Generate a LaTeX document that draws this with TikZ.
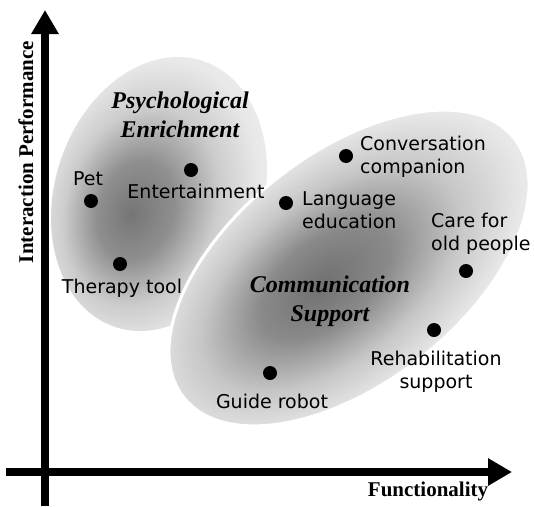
\documentclass[tikz,border=0pt]{standalone}
\usepackage{fontspec}
\setmainfont{Liberation Serif}
\newfontfamily\dejavu{DejaVu Sans}
\usetikzlibrary{arrows.meta}
\pgfdeclareradialshading{blobL}{\pgfpoint{-5bp}{5bp}}{color(0bp)=(black!54); color(9bp)=(black!44); color(18bp)=(black!20); color(26bp)=(black!9); color(33bp)=(black!6); color(50bp)=(black!6)}
\pgfdeclareradialshading{blobR}{\pgfpoint{-4bp}{1bp}}{color(0bp)=(black!56); color(9bp)=(black!46); color(18bp)=(black!22); color(26bp)=(black!9); color(33bp)=(black!6); color(50bp)=(black!6)}
\begin{document}
\begin{tikzpicture}[x=1pt,y=-1pt,
  dot/.style={circle,fill=black,inner sep=0pt,minimum size=14pt},
  lbl/.style={font=\dejavu\fontsize{19}{23}\selectfont,inner sep=0pt},
  grp/.style={font=\bfseries\itshape\fontsize{24}{29}\selectfont,inner sep=0pt,align=center},
  axlbl/.style={font=\bfseries\fontsize{21}{25}\selectfont,inner sep=0pt},
  axisarrow/.style={line width=8pt,-{Triangle[length=24pt,width=26pt]}}]
\fill[white] (0,0) rectangle (534,506);
\useasboundingbox (0,0) rectangle (534,506);

\begin{scope}[transform canvas={shift={(159,194)},rotate=72}]
  \shade[shading=blobL] (0,0) ellipse [x radius=140pt, y radius=104pt];
\end{scope}
\begin{scope}[transform canvas={shift={(349,268)},rotate=38}]
  \shadedraw[shading=blobR,draw=white,line width=3pt] (0,0) ellipse [x radius=210pt, y radius=115pt];
\end{scope}

\coordinate (xs) at (6,472);
\coordinate (xe) at (512,472);
\coordinate (ys) at (45,506);
\coordinate (ye) at (45,10);
\draw[axisarrow] (ys) -- (ye);
\draw[axisarrow] (xs) -- (xe);
\node[axlbl,rotate=90,anchor=base] (ylab) at (33,152) {Interaction Performance};
\node[axlbl,anchor=base] (xlab) at (428,496) {Functionality};

\node[grp,anchor=base] (psy) at (180,137) {Psychological\\Enrichment};
\node[grp,anchor=base] (com) at (330,321) {Communication\\Support};

\node[dot] (pet) at (91,201) {};
\node[lbl,anchor=base] (petl) at (88,185) {Pet};
\node[dot] (ent) at (191,170) {};
\node[lbl,anchor=base] (entl) at (196,198) {Entertainment};
\node[dot] (ther) at (120,264) {};
\node[lbl,anchor=base] (therl) at (122,293) {Therapy tool};
\node[dot] (conv) at (346,156) {};
\node[lbl,anchor=base west,align=left] (convl) at (360,173) {Conversation\\companion};
\node[dot] (lang) at (286,203) {};
\node[lbl,anchor=base west,align=left] (langl) at (302,228) {Language\\education};
\node[dot] (care) at (466,271) {};
\node[lbl,anchor=base west,align=left] (carel) at (431,250) {Care for\\old people};
\node[dot] (reh) at (434,330) {};
\node[lbl,anchor=base,align=center] (rehl) at (436,388) {Rehabilitation\\support};
\node[dot] (guide) at (270,373) {};
\node[lbl,anchor=base] (guidel) at (272,408) {Guide robot};
\end{tikzpicture}
\end{document}
